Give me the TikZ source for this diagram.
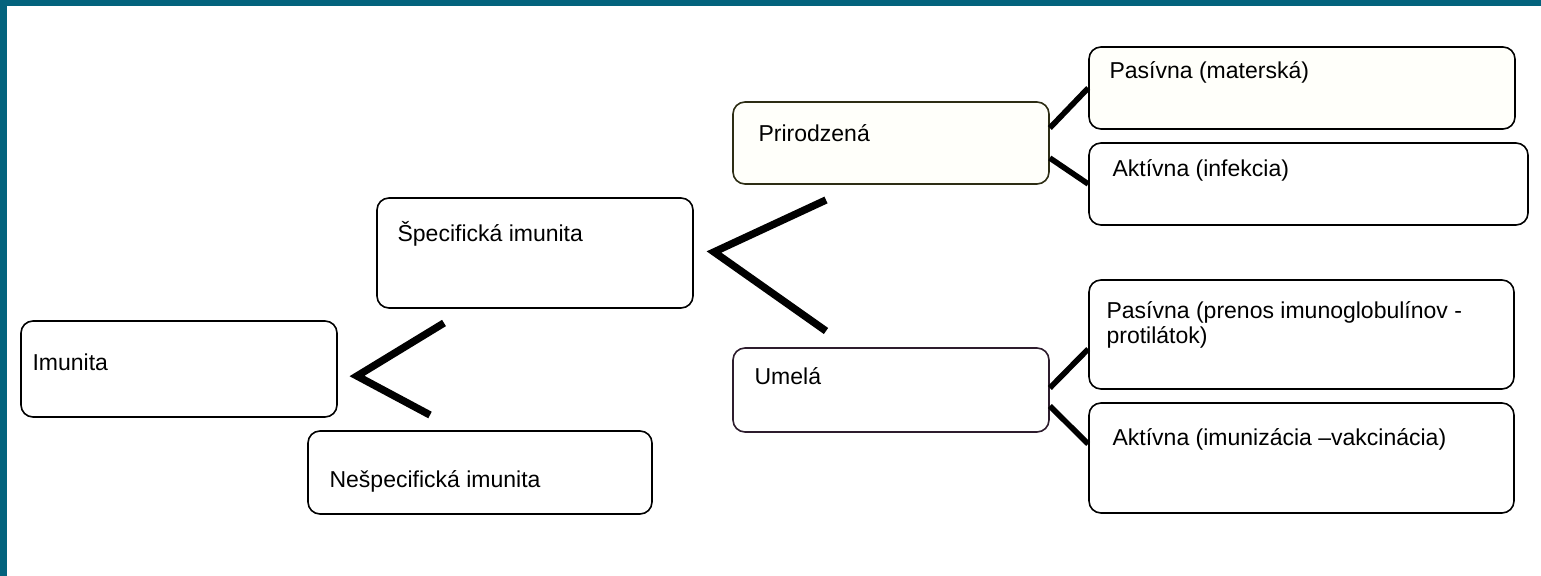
\documentclass[tikz,border=0pt]{standalone}
\usepackage{fontspec}
\setmainfont{Liberation Sans}
\usetikzlibrary{positioning, calc}
\definecolor{bandteal}{RGB}{3,99,125}
\definecolor{prirline}{RGB}{45,45,20}
\definecolor{umelline}{RGB}{45,28,45}
\tikzstyle{box} = [rectangle, rounded corners=6pt, draw=black, line width=0.8pt, fill=white, inner sep=0pt]
\tikzstyle{boxtext} = [inner sep=0pt, anchor=base west, font=\fontsize{11.5}{12.5}\selectfont, align=left]
\tikzstyle{forkline} = [line width=3.7pt]
\tikzstyle{twigline} = [line width=2.8pt]

\begin{document}
\begin{tikzpicture}[x=0.5pt, y=-0.5pt]

\useasboundingbox (0,0) rectangle (1541,576);
\fill [bandteal] (0,0) rectangle (1541,6);
\fill [bandteal] (0,0) rectangle (7,576);

% boxes
\node (imu) [box, minimum width=158pt, minimum height=48pt] at (179,369) {};
\node (spec) [box, minimum width=158pt, minimum height=55pt] at (535,253) {};
\node (nesp) [box, minimum width=172pt, minimum height=41.5pt] at (480,472.5) {};
\node (prir) [box, draw=prirline, fill=yellow!2, minimum width=158pt, minimum height=41pt] at (891,143) {};
\node (umel) [box, draw=umelline, minimum width=158pt, minimum height=42pt] at (891,390) {};
\node (pas1) [box, fill=yellow!2, minimum width=213pt, minimum height=41pt] at (1302,88) {};
\node (akt1) [box, minimum width=219.5pt, minimum height=41pt] at (1308.5,184) {};
\node (pas2) [box, minimum width=212.5pt, minimum height=54.5pt] at (1301.5,334.5) {};
\node (akt2) [box, minimum width=212.5pt, minimum height=55pt] at (1301.5,458) {};

% texts
\node (imu_txt) [boxtext] at ([shift={(12,50)}]imu.north west) {Imunita};
\node (spec_txt) [boxtext] at ([shift={(21,44)}]spec.north west) {Špecifická imunita};
\node (nesp_txt) [boxtext] at ([shift={(22,57)}]nesp.north west) {Nešpecifická imunita};
\node (prir_txt) [boxtext] at ([shift={(26,40)}]prir.north west) {Prirodzená};
\node (umel_txt) [boxtext] at ([shift={(22,37)}]umel.north west) {Umelá};
\node (pas1_txt) [boxtext] at ([shift={(21,32)}]pas1.north west) {Pasívna (materská)};
\node (akt1_txt) [boxtext] at ([shift={(24,34)}]akt1.north west) {Aktívna (infekcia)};
\node (pas2_txt) [boxtext] at ([shift={(18,64)}]pas2.north west) {Pasívna (prenos imunoglobulínov -\\protilátok)};
\node (akt2_txt) [boxtext] at ([shift={(24,43)}]akt2.north west) {Aktívna (imunizácia –vakcinácia)};

% forks
\coordinate (imu_fork) at (357,376);
\coordinate (imu_up) at (444,323);
\coordinate (imu_dn) at (430,415);
\coordinate (spec_fork) at (714,252);
\coordinate (spec_up) at (826,200);
\coordinate (spec_dn) at (826,331);

\draw [forkline] (imu_up) -- (imu_fork) -- (imu_dn);
\draw [forkline] (spec_up) -- (spec_fork) -- (spec_dn);

\draw [twigline] ($(prir.east)+(0,-15)$) -- (pas1.west);
\draw [twigline] ($(prir.east)+(0,15)$) -- (akt1.west);
\draw [twigline] ($(umel.east)+(0,-2)$) -- ($(pas2.west)+(0,14.5)$);
\draw [twigline] ($(umel.east)+(0,16)$) -- ($(akt2.west)+(0,-14)$);

\end{tikzpicture}
\end{document}
